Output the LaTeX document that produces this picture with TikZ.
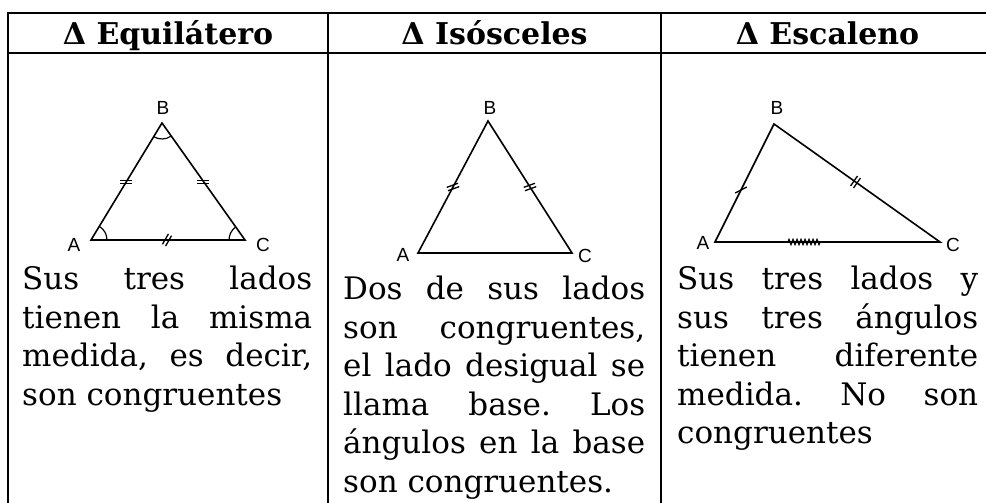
\documentclass[tikz,border=0pt]{standalone}
\usepackage{fontspec}
\setmainfont{DejaVu Serif}
\newfontfamily\labelfont{Liberation Sans}
\usetikzlibrary{angles,decorations.pathmorphing}
\tolerance=10000
\hyphenpenalty=10000
\frenchspacing
\tikzset{
  tableline/.style={line width=2pt},
  triside/.style={line width=1.6pt, line join=miter},
  tickmark/.style={line width=1.3pt},
  vertexlabel/.style={font=\labelfont\fontsize{19}{19}\selectfont, inner sep=0pt},
  headtext/.style={font=\bfseries\fontsize{30}{30}\selectfont, anchor=base, inner sep=0pt},
  bodytext/.style={font=\fontsize{31}{38.5}\selectfont, anchor=base west, inner sep=0pt, align=justify},
}
\newcommand{\drawDoubleTick}[2]{\draw [tickmark, shift={#1}, rotate=#2] (-6,-1.8) -- (6,-1.8) (-6,1.8) -- (6,1.8)}
\newcommand{\drawSingleTick}[2]{\draw [tickmark, shift={#1}, rotate=#2] (-6.5,0) -- (6.5,0)}
\newcommand{\drawAngleMark}[1]{\pic [draw, line width=1.2pt, angle radius=16pt] {angle=#1}}
\begin{document}
\begin{tikzpicture}[x=1pt, y=1pt]
    \useasboundingbox (0,0) rectangle (986,503);

    %table
    \draw [tableline] (8,490) -- (994,490);
    \draw [tableline] (8,450) -- (994,450);
    \draw [tableline] (8,491) -- (8,0);
    \draw [tableline] (328,490) -- (328,0);
    \draw [tableline] (661,490) -- (661,0);
    \draw [tableline] (994,491) -- (994,0);

    %headers
    \node [headtext] (headEq) at (168,458) {Δ Equilátero};
    \node [headtext] (headIso) at (494.5,458) {Δ Isósceles};
    \node [headtext] (headEsc) at (827.5,458) {Δ Escaleno};

    %for equilatero
    \coordinate (eqA) at (91,263);
    \coordinate (eqB) at (162,380);
    \coordinate (eqC) at (245,263);
    \draw [triside] (eqA) -- (eqB) -- (eqC) -- cycle;
    \node [vertexlabel] (labEqA) at (74,258) {A};
    \node [vertexlabel] (labEqB) at (163,395) {B};
    \node [vertexlabel] (labEqC) at (263,258) {C};
    \drawDoubleTick{(126,321)}{0};
    \drawDoubleTick{(203,321)}{0};
    \drawDoubleTick{(167,263)}{60};
    \drawAngleMark{eqC--eqA--eqB};
    \drawAngleMark{eqA--eqB--eqC};
    \drawAngleMark{eqB--eqC--eqA};
    \node [bodytext, text width=290] (txtEq) at (22,213)
      {Sus tres lados\linebreak tienen la misma\linebreak medida, es decir,\linebreak son congruentes};

    %for isosceles
    \coordinate (isoA) at (418,250);
    \coordinate (isoB) at (488,382);
    \coordinate (isoC) at (572,250);
    \draw [triside] (isoA) -- (isoB) -- (isoC) -- cycle;
    \node [vertexlabel] (labIsoA) at (403,248) {A};
    \node [vertexlabel] (labIsoB) at (490,395) {B};
    \node [vertexlabel] (labIsoC) at (585,247) {C};
    \drawDoubleTick{(453,316)}{20};
    \drawDoubleTick{(530,316)}{20};
    \node [bodytext, text width=302] (txtIso) at (343,203)
      {Dos de sus lados\linebreak son congruentes,\linebreak el lado desigual se\linebreak llama base. Los\linebreak ángulos en la base\linebreak son congruentes.};

    %for escaleno
    \coordinate (escA) at (715,261);
    \coordinate (escB) at (774,379);
    \coordinate (escC) at (940,261);
    \draw [triside] (escA) -- (escB) -- (escC) -- cycle;
    \node [vertexlabel] (labEscA) at (703,260) {A};
    \node [vertexlabel] (labEscB) at (777,395) {B};
    \node [vertexlabel] (labEscC) at (953,258) {C};
    \drawSingleTick{(741,313)}{27};
    \drawDoubleTick{(855.5,321)}{55};
    \draw [tickmark, decorate, decoration={zigzag, segment length=4pt, amplitude=2.5pt}] (788,261) -- (820,261);
    \node [bodytext, text width=301] (txtEsc) at (677,213)
      {Sus tres lados y\linebreak sus tres ángulos\linebreak tienen diferente\linebreak medida. No son\linebreak congruentes};

\end{tikzpicture}
\end{document}
